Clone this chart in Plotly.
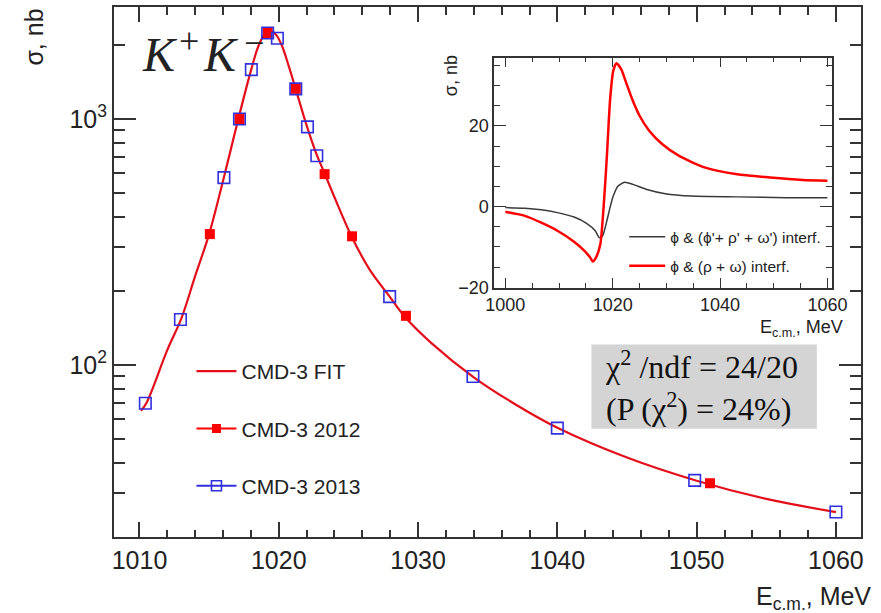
import plotly.graph_objects as go

# ---- main panel: K+K- cross section, nb ----
e_2012 = [1015.05, 1017.18, 1019.20, 1021.22, 1023.29, 1025.26, 1029.13, 1050.96]
s_2012 = [340, 998, 2234, 1324, 596, 333, 158.2, 33.0]

e_2013 = [1010.42, 1012.94, 1016.06, 1017.18, 1018.03, 1019.20, 1019.90, 1021.22,
          1022.06, 1022.73, 1027.96, 1033.94, 1040.00, 1049.86, 1060.00]
s_2013 = [69.8, 152.8, 577, 998, 1585, 2234, 2127, 1324,
          928, 708, 189.3, 89.6, 55.3, 33.9, 25.2]

e_fit = [1010.1, 1010.5, 1012.0, 1013.0, 1014.0, 1015.0, 1016.0, 1017.0, 1018.0,
         1018.5, 1019.0, 1019.4, 1019.8, 1020.2, 1020.7, 1021.2, 1022.0, 1022.7,
         1023.3, 1024.0, 1025.2, 1026.5, 1028.0, 1029.0, 1031.0, 1034.0, 1037.0,
         1040.0, 1045.0, 1050.0, 1055.0, 1060.0]
s_fit = [65, 70, 115, 154, 230, 340, 560, 950, 1570,
         1950, 2220, 2290, 2200, 2000, 1650, 1330, 940, 720,
         598, 480, 335, 245, 188, 158, 122, 89, 69,
         55.5, 42, 33.8, 28.5, 25.2]

# ---- inset: interference contributions, nb ----
e_int_red = [1000.0, 1003.65, 1006.7, 1009.7, 1012.8, 1014.6, 1015.8, 1016.3, 1016.9,
             1017.7, 1018.3, 1018.9, 1019.5, 1020.1, 1020.7, 1021.6, 1022.5, 1023.75,
             1025.0, 1026.8, 1029.2, 1032.3, 1037.1, 1043.2, 1049.3, 1055.4, 1060.0]
s_int_red = [-1.3, -2.3, -4.0, -6.0, -8.7, -10.8, -12.6, -13.6, -12.6,
             -9.3, -0.25, 12.1, 26.2, 33.6, 35.5, 34.0, 30.7, 26.2,
             22.5, 18.8, 15.5, 12.6, 9.7, 8.0, 7.2, 6.6, 6.4]

e_int_blk = [1000.0, 1003.65, 1006.7, 1009.7, 1012.8, 1015.2, 1016.75, 1017.5, 1018.1,
             1018.9, 1019.5, 1020.1, 1021.0, 1022.2, 1023.75, 1026.2, 1029.8, 1034.7,
             1043.2, 1052.4, 1060.0]
s_int_blk = [-0.25, -0.4, -0.8, -1.5, -2.6, -4.2, -6.0, -7.7, -7.3,
             -3.6, -0.25, 2.6, 5.1, 6.0, 5.5, 4.3, 3.2, 2.6,
             2.4, 2.2, 2.2]

main_xticks = [1010, 1020, 1030, 1040, 1050, 1060]
main_yticks = [100, 1000]
main_yticktext = ["10<sup>2</sup>", "10<sup>3</sup>"]
main_yminor = [20, 30, 40, 50, 60, 70, 80, 90, 200, 300, 400, 500, 600, 700, 800, 900, 2000]
inset_xticks = [1000, 1020, 1040, 1060]
inset_yticks = [-20, 0, 20]

RED_LINE = "#e3101c"
RED = "#ff0000"
BLUE = "#3030dd"
AX = "#333333"
SANS = "Liberation Sans, Arial, sans-serif"
SERIF = "Liberation Serif, Times New Roman, serif"

fig = go.Figure()

fig.add_trace(go.Scatter(x=e_fit, y=s_fit, mode="lines", name="CMD-3 FIT",
                         line=dict(color=RED_LINE, width=2.2, shape="spline"),
                         legendgroup="fit", legend="legend"))
fig.add_trace(go.Scatter(x=e_2012, y=s_2012, mode="markers", showlegend=False,
                         marker=dict(symbol="square", size=10, color=RED,
                                     line=dict(width=0))))
fig.add_trace(go.Scatter(x=e_2013, y=s_2013, mode="markers", showlegend=False,
                         marker=dict(symbol="square-open", size=11.5, color=BLUE,
                                     line=dict(width=1.6, color=BLUE))))
# legend entries for the data sets (line + marker style)
fig.add_trace(go.Scatter(x=[None], y=[None], mode="lines+markers", name="CMD-3 2012",
                         line=dict(color=RED, width=2),
                         marker=dict(symbol="square", size=9, color=RED),
                         legendgroup="y2012", legend="legend"))
fig.add_trace(go.Scatter(x=[None], y=[None], mode="lines+markers", name="CMD-3 2013",
                         line=dict(color=BLUE, width=2),
                         marker=dict(symbol="square-open", size=10, color=BLUE,
                                     line=dict(width=1.6, color=BLUE)),
                         legendgroup="y2013", legend="legend"))

# inset curves
fig.add_trace(go.Scatter(x=e_int_blk, y=s_int_blk, mode="lines", xaxis="x2", yaxis="y2",
                         name="\u03d5 & (\u03d5'+ \u03c1' + \u03c9') interf.",
                         line=dict(color="#3a3a3a", width=1.5, shape="spline", smoothing=0.6),
                         legend="legend2", legendgroup="blk"))
fig.add_trace(go.Scatter(x=e_int_red, y=s_int_red, mode="lines", xaxis="x2", yaxis="y2",
                         name="\u03d5 & (\u03c1 + \u03c9) interf.",
                         line=dict(color=RED, width=2.5, shape="spline", smoothing=0.6),
                         legend="legend2", legendgroup="red"))

axis_common = dict(showline=True, linecolor=AX, mirror="allticks", ticks="inside",
                   tickcolor=AX, showgrid=False, zeroline=False)


def px_x(px):
    """Pixel column -> paper x (plot area spans 114..876)."""
    return (px - 114) / 762.0


def px_y(py):
    """Pixel row -> paper y (plot area spans 6..536.7)."""
    return (536.7 - py) / 530.7


# reaction label K+K- built from pieces so the charges keep their size
label_font = dict(family=SERIF, color="#222")
reaction = [
    dict(text="<i>K</i>", x=px_x(141), y=px_y(54), xanchor="left", size=48),
    dict(text="+", x=px_x(191), y=px_y(40), xanchor="center", size=36),
    dict(text="<i>K</i>", x=px_x(203), y=px_y(54), xanchor="left", size=48),
    dict(text="\u2212", x=px_x(257), y=px_y(42), xanchor="center", size=36),
]
reaction_ann = [dict(text=r["text"], xref="paper", yref="paper", x=r["x"], y=r["y"],
                     xanchor=r["xanchor"], yanchor="middle", showarrow=False,
                     font=dict(size=r["size"], **label_font)) for r in reaction]

fig.update_layout(
    width=881, height=613,
    margin=dict(l=114, r=5, t=6, b=76),
    paper_bgcolor="white", plot_bgcolor="white",
    font=dict(family=SANS, color="#222222"),
    xaxis=dict(**axis_common, range=[1008.17, 1061.8], linewidth=2,
               tickvals=main_xticks, ticklen=15, tickwidth=1.5,
               tickfont=dict(size=25, family=SANS, color="#222"),
               minor=dict(ticks="inside", ticklen=7.5, tickwidth=1.5, tickcolor=AX,
                          dtick=2, tick0=1010, showgrid=False)),
    yaxis=dict(**axis_common, type="log", range=[1.30, 3.4547], linewidth=2,
               tickvals=main_yticks, ticktext=main_yticktext, ticklen=22, tickwidth=1.5,
               tickfont=dict(size=25, family=SANS, color="#222"),
               minor=dict(ticks="inside", ticklen=11, tickwidth=1.5, tickcolor=AX,
                          tickmode="array", tickvals=main_yminor, showgrid=False)),
    xaxis2=dict(**axis_common, domain=[0.5088, 0.9615], anchor="y2",
                range=[997.9, 1060.9], linewidth=1.5,
                tickvals=inset_xticks, ticklen=10, tickwidth=1.2,
                tickfont=dict(size=18, family=SANS, color="#222"),
                minor=dict(ticks="inside", ticklen=5, tickwidth=1.2, tickcolor=AX,
                           dtick=5, tick0=1000, showgrid=False)),
    yaxis2=dict(**axis_common, domain=[0.470, 0.9045], anchor="x2",
                range=[-20.15, 36.9], linewidth=1.5,
                tickvals=inset_yticks, ticklen=12, tickwidth=1.2,
                tickfont=dict(size=18, family=SANS, color="#222"),
                minor=dict(ticks="inside", ticklen=6, tickwidth=1.2, tickcolor=AX,
                           dtick=5, tick0=0, showgrid=False)),
    legend=dict(x=0.1037, y=0.351, xanchor="left", yanchor="top",
                font=dict(size=21, family=SANS, color="#222"),
                bgcolor="rgba(0,0,0,0)", tracegroupgap=27, itemwidth=40,
                traceorder="grouped"),
    legend2=dict(x=0.683, y=0.598, xanchor="left", yanchor="top",
                 font=dict(size=15.5, family=SANS, color="#222"),
                 bgcolor="rgba(0,0,0,0)", tracegroupgap=6, itemwidth=36,
                 traceorder="grouped"),
    shapes=[dict(type="rect", xref="paper", yref="paper",
                 x0=0.6391, x1=0.9409, y0=0.2043, y1=0.3631,
                 fillcolor="#d4d4d4", line=dict(width=0), layer="below")],
    annotations=reaction_ann + [
        dict(text="\u03c3, nb", xref="paper", yref="paper", x=-0.1076, y=0.9435,
             xanchor="center", yanchor="middle", textangle=-90, showarrow=False,
             font=dict(size=25, family=SANS, color="#222")),
        dict(text="E<sub>c.m.</sub>, MeV", xref="paper", yref="paper", x=1.016, y=-0.1155,
             xanchor="right", yanchor="middle", showarrow=False,
             font=dict(size=25, family=SANS, color="#222")),
        dict(text="\u03c7<sup>2</sup> /ndf = 24/20<br>(P (\u03c7<sup>2</sup>) = 24%)",
             xref="paper", yref="paper", align="left",
             x=px_x(613), y=px_y(386), xanchor="left", yanchor="middle", showarrow=False,
             font=dict(size=32, family=SERIF, color="#111")),
        dict(text="\u03c3, nb", xref="paper", yref="paper", x=0.4514, y=0.8698,
             xanchor="center", yanchor="middle", textangle=-90, showarrow=False,
             font=dict(size=18, family=SANS, color="#222")),
        dict(text="E<sub>c.m.</sub>, MeV", xref="paper", yref="paper", x=0.979, y=0.394,
             xanchor="right", yanchor="middle", showarrow=False,
             font=dict(size=18, family=SANS, color="#222")),
    ],
)

fig.write_html("out.html")
